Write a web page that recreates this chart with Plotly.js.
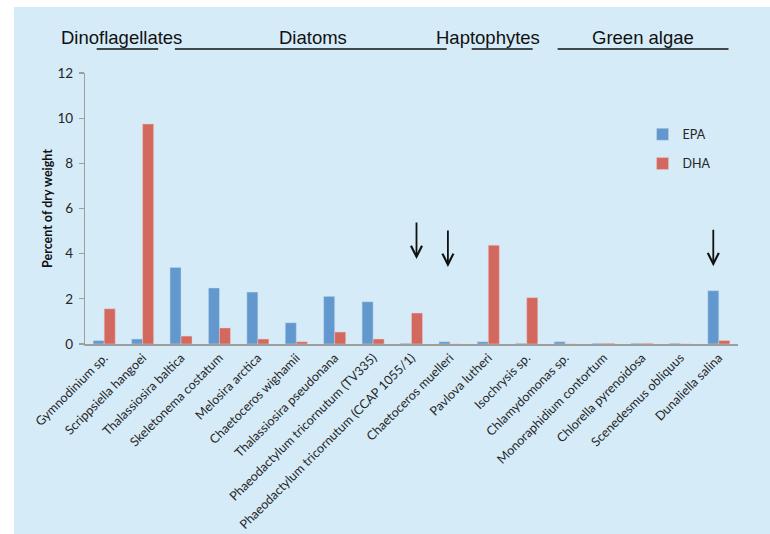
<!DOCTYPE html>
<html>
<head>
<meta charset="utf-8">
<script src="https://cdn.plot.ly/plotly-3.0.1.min.js"></script>
<style>
  html, body { margin: 0; padding: 0; background: #ffffff; }
  #chart { position: absolute; left: 14px; top: 7px; width: 756px; height: 527px; }
</style>
</head>
<body>
<div id="chart"></div>
<script>
// ---- data ----
const species = [
  "Gymnodinium sp.", "Scrippsiella hangoei", "Thalassiosira baltica",
  "Skeletonema costatum", "Melosira arctica", "Chaetoceros wighamii",
  "Thalassiosira pseudonana", "Phaeodactylum tricornutum (TV335)",
  "Phaeodactylum tricornutum (CCAP 1055/1)", "Chaetoceros muelleri",
  "Pavlova lutheri", "Isochrysis sp.", "Chlamydomonas sp.",
  "Monoraphidium contortum", "Chlorella pyrenoidosa",
  "Scenedesmus obliquus", "Dunaliella salina"
];
const epa = [0.15, 0.22, 3.39, 2.48, 2.30, 0.94, 2.11, 1.87, 0.03, 0.10, 0.10, 0.03, 0.10, 0.03, 0.03, 0.03, 2.36];
const dha = [1.56, 9.74, 0.35, 0.71, 0.22, 0.10, 0.53, 0.22, 1.37, 0.00, 4.37, 2.05, 0.00, 0.03, 0.03, 0.00, 0.15];
const groupNames = ["Dinoflagellates", "Diatoms", "Haptophytes", "Green algae"];
const arrowTargets = ["Phaeodactylum tricornutum (CCAP 1055/1)", "Chaetoceros muelleri", "Dunaliella salina"];
const arrowTips = [3.76, 3.41, 3.44];

// ---- helpers (page pixel -> paper fraction of plot area) ----
const PL = 85, PR = 738.5, PT = 73.3, PB = 344.3;
const px = x => (x - PL) / (PR - PL);
const py = y => (PB - y) / (PB - PT);

const groupTextX = [121.5, 313, 488.5, 643.5];
const groupLines = [[96.7, 158.3], [175, 447], [472, 533], [558, 729]];
const arrowShift = [5, -2, -5.5];

const annotations = [];
groupNames.forEach((g, i) => {
  annotations.push({
    xref: "paper", yref: "paper", x: px(groupTextX[i]), y: py(37.5),
    text: g, showarrow: false, xanchor: "center", yanchor: "middle",
    font: { family: "Liberation Sans, Arial, sans-serif", size: 18.5, color: "#111111" }
  });
});
arrowTargets.forEach((c, i) => {
  annotations.push({
    xref: "x", yref: "y", x: c, y: arrowTips[i], xshift: arrowShift[i],
    showarrow: true, ax: 0, ay: -38, axref: "pixel", ayref: "pixel",
    arrowhead: 5, arrowsize: 1.2, arrowwidth: 1.8, arrowcolor: "#111111",
    standoff: 0, text: ""
  });
});

const shapes = groupLines.map(([a, b]) => ({
  type: "line", xref: "paper", yref: "paper",
  x0: px(a), x1: px(b), y0: py(49.3), y1: py(49.3),
  line: { color: "#111111", width: 1.3 }
}));

const traces = [
  { type: "bar", name: "EPA", x: species, y: epa, legendgroup: "a",
    marker: { color: "#6298CD", line: { color: "rgba(200,220,240,0.6)", width: 0.8 } } },
  { type: "bar", name: "DHA", x: species, y: dha, legendgroup: "b",
    marker: { color: "#D3685F", line: { color: "rgba(240,200,200,0.6)", width: 0.8 } } }
];

const layout = {
  width: 756, height: 527,
  paper_bgcolor: "#D5EBF8", plot_bgcolor: "#D5EBF8",
  margin: { l: PL - 14, r: 756 - (PR - 14), t: PT - 7, b: 527 - (PB - 7), pad: 0 },
  barmode: "group", bargap: 0.427, bargroupgap: 0,
  font: { family: "Lato, Open Sans, sans-serif", size: 12, color: "#262626" },
  showlegend: true,
  legend: {
    x: px(643), y: py(120), xanchor: "left", yanchor: "top",
    bgcolor: "rgba(0,0,0,0)", traceorder: "grouped", tracegroupgap: 10,
    font: { family: "Lato, Open Sans, sans-serif", size: 12.5, color: "#262626" }
  },
  xaxis: {
    type: "category", tickangle: -45, showline: true, linecolor: "#9E9E9E", linewidth: 1.5,
    ticks: "", showgrid: false, zeroline: false, automargin: false,
    tickfont: { family: "Lato, Open Sans, sans-serif", size: 12.6, color: "#262626" }
  },
  yaxis: {
    range: [0, 12], dtick: 2, showline: true, linecolor: "#9E9E9E", linewidth: 1.2,
    ticks: "outside", ticklen: 5, tickcolor: "#9E9E9E", tickwidth: 1.2,
    ticklabelstandoff: 3,
    showgrid: false, zeroline: false, automargin: false,
    tickfont: { family: "Lato, Open Sans, sans-serif", size: 13.5, color: "#262626" },
    title: { text: "<b>Percent of dry weight</b>", standoff: 2,
      font: { family: "Lato, Open Sans, sans-serif", size: 12.5, color: "#111111" } }
  },
  annotations: annotations,
  shapes: shapes
};

Plotly.newPlot("chart", traces, layout, { displayModeBar: false, staticPlot: true });
</script>
</body>
</html>
